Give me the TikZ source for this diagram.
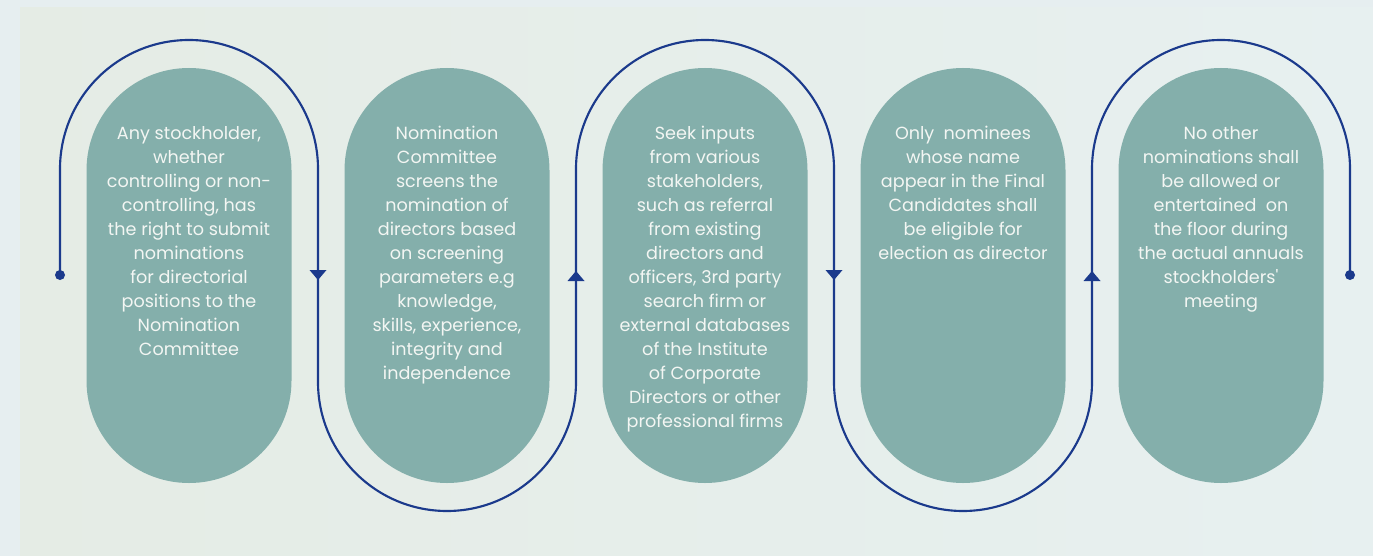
\documentclass[tikz,border=0pt]{standalone}
\usepackage{fontspec}
\setmainfont{Poppins}
\usetikzlibrary{calc}
\definecolor{pillteal}{RGB}{132,175,171}
\definecolor{linkblue}{RGB}{27,58,140}
\definecolor{bgblue}{RGB}{230,238,240}
\definecolor{bggreen}{RGB}{229,236,229}
\definecolor{bgright}{RGB}{231,240,240}
\definecolor{pilltext}{RGB}{243,246,243}
\tikzset{
	pill/.style={fill=pillteal, draw=none, rounded corners=76.8pt, minimum width=153.75pt, minimum height=311.25pt, inner sep=0pt},
	pilltxt/.style={anchor=north, inner sep=0pt, align=center, text=pilltext, font=\fontsize{13.2}{18}\selectfont},
	snake/.style={draw=linkblue, line width=1.6pt},
	enddot/.style={fill=linkblue},
}
\begin{document}
\begin{tikzpicture}[x=0.75pt,y=0.75pt,yscale=-1]
	\useasboundingbox (0,0) rectangle (1373,556);
	%Shape: Background
	\fill[bgblue] (0,0) rectangle (1373,556);
	\shade[left color=bggreen, right color=bgright] (20,8) rectangle (1373,556);
	
	%Shape: Pills
	\node[pill] (p1) at (189,275.5) {};
	\node[pill] (p2) at (447,275.5) {};
	\node[pill] (p3) at (705,275.5) {};
	\node[pill] (p4) at (963,275.5) {};
	\node[pill] (p5) at (1221,275.5) {};
	
	%Shape: Serpentine line
	\coordinate (start) at (60,275);
	\coordinate (finish) at (1350,275);
	\draw[snake] (start) -- (60,169) arc (180:360:129) -- (318,382) arc (180:0:129)
		-- (576,169) arc (180:360:129) -- (834,382) arc (180:0:129)
		-- (1092,169) arc (180:360:129) -- (finish);
	\fill[enddot] (start) circle (5);
	\fill[enddot] (finish) circle (5);
	
	%Shape: Triangles
	\fill[linkblue] (309.5,270) -- (326.5,270) -- (318,280) -- cycle;
	\fill[linkblue] (567.5,281) -- (584.5,281) -- (576,271) -- cycle;
	\fill[linkblue] (825.5,270) -- (842.5,270) -- (834,280) -- cycle;
	\fill[linkblue] (1083.5,281) -- (1100.5,281) -- (1092,271) -- cycle;
	
	% Text Node
	\node[pilltxt] (t1) at ($(p1.north)+(0,58)$) {Any stockholder,\\whether\\controlling or non-\\controlling, has\\the right to submit\\nominations\\for directorial\\positions to the\\Nomination\\Committee};
	% Text Node
	\node[pilltxt] (t2) at ($(p2.north)+(0,58)$) {Nomination\\Committee\\screens the\\nomination of\\directors based\\on screening\\parameters e.g\\knowledge,\\skills, experience,\\integrity and\\independence};
	% Text Node
	\node[pilltxt] (t3) at ($(p3.north)+(0,58)$) {Seek inputs\\from various\\stakeholders,\\such as referral\\from existing\\directors and\\officers, 3rd party\\search firm or\\external databases\\of the Institute\\of Corporate\\Directors or other\\professional firms};
	% Text Node
	\node[pilltxt] (t4) at ($(p4.north)+(0,58)$) {Only\ \ nominees\\whose name\\appear in the Final\\Candidates shall\\be eligible for\\election as director};
	% Text Node
	\node[pilltxt] (t5) at ($(p5.north)+(0,58)$) {No other\\nominations shall\\be allowed or\\entertained\ \ on\\the floor during\\the actual annuals\\stockholders\textquotesingle\\meeting};
\end{tikzpicture}
\end{document}
